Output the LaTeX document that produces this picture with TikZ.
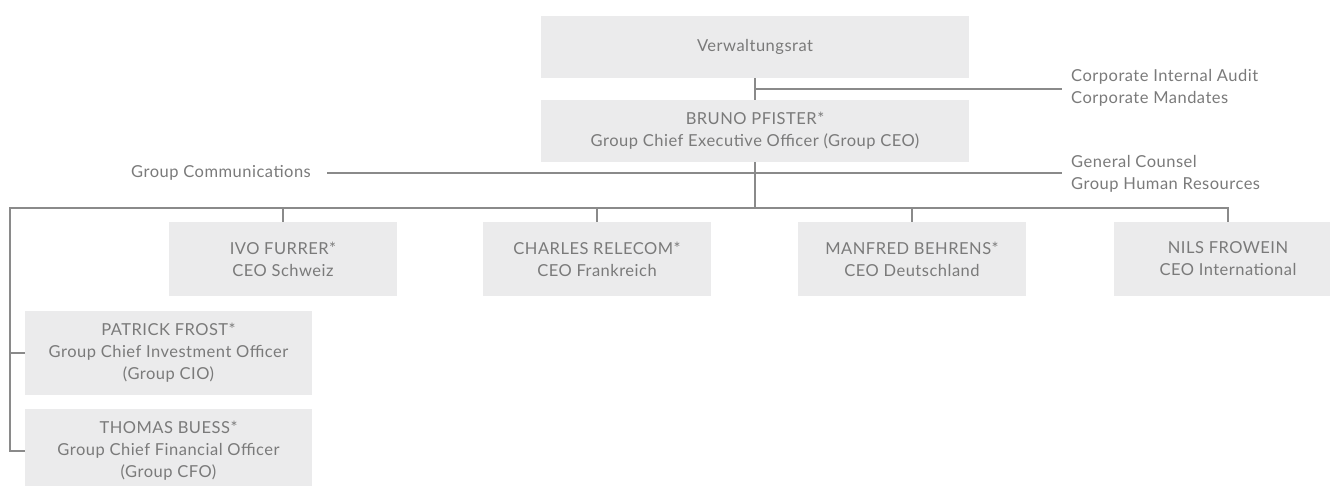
\documentclass[tikz,border=0pt]{standalone}
\usepackage{fontspec}
\setmainfont[LetterSpace=3.0]{Lato}
\usetikzlibrary{calc}
\definecolor{boxfill}{RGB}{235,235,236}
\definecolor{txt}{RGB}{122,122,122}
\definecolor{rule}{RGB}{138,138,138}
\begin{document}
\begin{tikzpicture}[x=1pt,y=-1pt,
  every node/.style={font=\fontsize{16.5}{22}\selectfont, text=txt, inner sep=0pt},
  box/.style={fill=boxfill, align=center, minimum width=428pt, minimum height=62pt},
  unit/.style={fill=boxfill, align=center, minimum width=228pt, minimum height=74pt},
  staff/.style={fill=boxfill, align=center, minimum width=287pt, minimum height=84pt},
  side/.style={align=left},
  link/.style={draw=rule, line width=1.1pt}]
\useasboundingbox (0,0) rectangle (1330,486);
\clip (0,0) rectangle (1330,486);

% board and group CEO
\node[box] (vr) at (755,47) {Verwaltungsrat};
\node[box] (ceo) at (755,131) {BRUNO PFISTER*\\Group Chief Executive Officer (Group CEO)};

% staff functions
\node[side, anchor=west] (audit) at (1071,88) {Corporate Internal Audit\\Corporate Mandates};
\node[anchor=east] (comms) at (311,173) {Group Communications};
\node[side, anchor=west] (legal) at (1071,174) {General Counsel\\Group Human Resources};

% business units
\node[unit] (ivo) at (283,259) {IVO FURRER*\\CEO Schweiz};
\node[unit] (charles) at (597,259) {CHARLES RELECOM*\\CEO Frankreich};
\node[unit] (manfred) at (912,259) {MANFRED BEHRENS*\\CEO Deutschland};
\node[unit] (nils) at (1228,259) {NILS FROWEIN\\CEO International};

% group functions
\node[staff] (patrick) at (168.5,353) {PATRICK FROST*\\Group Chief Investment Officer\\(Group CIO)};
\node[staff] (thomas) at (168.5,451) {THOMAS BUESS*\\Group Chief Financial Officer\\(Group CFO)};

% connectors
\draw[link] (vr.south) -- (ceo.north);
\coordinate (auditjoin) at ($(vr.south)!0.5!(ceo.north)$);
\draw[link] (auditjoin) -- ([xshift=-9pt]audit.west |- auditjoin);
\draw[link] ([xshift=16pt]comms.east) -- ([xshift=-9pt]legal.west |- comms.east);
\coordinate (bus) at (10,208);
\draw[link] (ceo.south) -- (ceo.south |- bus);
\draw[link] (patrick.west) -| (bus) -| (nils.north);
\draw[link] (thomas.west) -| (patrick.west -| bus);
\draw[link] (ivo.north) -- (ivo.north |- bus);
\draw[link] (charles.north) -- (charles.north |- bus);
\draw[link] (manfred.north) -- (manfred.north |- bus);
\end{tikzpicture}
\end{document}
